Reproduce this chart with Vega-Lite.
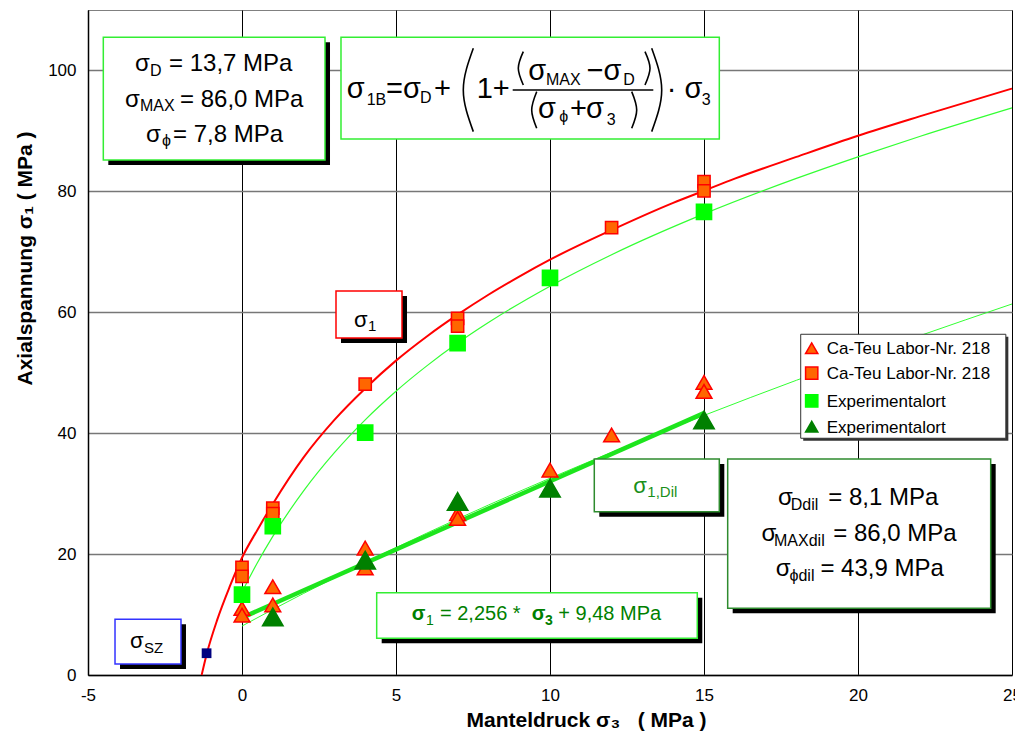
{
  "$schema": "https://vega.github.io/schema/vega-lite/v6.json",
  "width": 924,
  "height": 665,
  "autosize": {"type": "none"},
  "padding": {"left": 88, "top": 10, "right": 3, "bottom": 63},
  "background": "white",
  "config": {
    "font": "Liberation Sans",
    "view": {"stroke": "#808080", "strokeWidth": 1},
    "axis": {"labelColor": "#000", "titleColor": "#000", "labelFont": "Liberation Sans", "titleFont": "Liberation Sans"}
  },
  "datasets": {
    "curves": [
      {"c": "red", "x": -1.31, "y": 0}, {"c": "red", "x": -1.15, "y": 3.4}, {"c": "red", "x": -0.8, "y": 9.2}, {"c": "red", "x": -0.4, "y": 14.6},
      {"c": "red", "x": 0, "y": 19.4}, {"c": "red", "x": 0.5, "y": 24.0}, {"c": "red", "x": 1, "y": 28.3}, {"c": "red", "x": 2, "y": 36.0},
      {"c": "red", "x": 3, "y": 42.2}, {"c": "red", "x": 4, "y": 47.4}, {"c": "red", "x": 5, "y": 52.0}, {"c": "red", "x": 6, "y": 56.0},
      {"c": "red", "x": 7, "y": 59.6}, {"c": "red", "x": 8, "y": 62.9}, {"c": "red", "x": 9, "y": 65.9}, {"c": "red", "x": 10, "y": 68.7},
      {"c": "red", "x": 12, "y": 73.6}, {"c": "red", "x": 14, "y": 78.1}, {"c": "red", "x": 15, "y": 80.1}, {"c": "red", "x": 16, "y": 82.1},
      {"c": "red", "x": 18, "y": 85.7}, {"c": "red", "x": 20, "y": 89.2}, {"c": "red", "x": 22, "y": 92.4}, {"c": "red", "x": 25, "y": 97.0},
      {"c": "fit", "x": 0, "y": 13.7}, {"c": "fit", "x": 0.5, "y": 18.56}, {"c": "fit", "x": 1, "y": 22.92}, {"c": "fit", "x": 2, "y": 30.46},
      {"c": "fit", "x": 3, "y": 36.78}, {"c": "fit", "x": 4, "y": 42.21}, {"c": "fit", "x": 5, "y": 46.94}, {"c": "fit", "x": 6, "y": 51.13},
      {"c": "fit", "x": 7, "y": 54.9}, {"c": "fit", "x": 8, "y": 58.31}, {"c": "fit", "x": 10, "y": 64.32}, {"c": "fit", "x": 12, "y": 69.52},
      {"c": "fit", "x": 15, "y": 76.27}, {"c": "fit", "x": 18, "y": 82.14}, {"c": "fit", "x": 20, "y": 85.71}, {"c": "fit", "x": 22, "y": 89.08},
      {"c": "fit", "x": 25, "y": 93.81},
      {"c": "dil", "x": 0, "y": 8.1}, {"c": "dil", "x": 1, "y": 10.84}, {"c": "dil", "x": 2, "y": 13.49}, {"c": "dil", "x": 4, "y": 18.61},
      {"c": "dil", "x": 6, "y": 23.47}, {"c": "dil", "x": 8, "y": 28.11}, {"c": "dil", "x": 10, "y": 32.55}, {"c": "dil", "x": 12, "y": 36.82},
      {"c": "dil", "x": 15, "y": 42.94}, {"c": "dil", "x": 18, "y": 48.75}, {"c": "dil", "x": 20, "y": 52.48}, {"c": "dil", "x": 22, "y": 56.11},
      {"c": "dil", "x": 25, "y": 61.37},
      {"c": "lin", "x": 0, "y": 9.48}, {"c": "lin", "x": 15, "y": 43.32}
    ],
    "pts": [
      {"s": "A", "x": 0, "y": 11.0}, {"s": "A", "x": 0, "y": 9.9}, {"s": "A", "x": 1, "y": 14.6}, {"s": "A", "x": 1, "y": 11.6},
      {"s": "A", "x": 4, "y": 21.0}, {"s": "A", "x": 4, "y": 17.7}, {"s": "A", "x": 7, "y": 26.7}, {"s": "A", "x": 7, "y": 25.9},
      {"s": "A", "x": 10, "y": 33.9}, {"s": "A", "x": 12, "y": 39.7}, {"s": "A", "x": 15, "y": 48.4}, {"s": "A", "x": 15, "y": 46.9},
      {"s": "B", "x": 0, "y": 17.8}, {"s": "B", "x": 0, "y": 16.3}, {"s": "B", "x": 1, "y": 27.6}, {"s": "B", "x": 1, "y": 26.7},
      {"s": "B", "x": 4, "y": 48.1}, {"s": "B", "x": 7, "y": 59.0}, {"s": "B", "x": 7, "y": 57.7}, {"s": "B", "x": 12, "y": 74.0},
      {"s": "B", "x": 15, "y": 81.6}, {"s": "B", "x": 15, "y": 80.1},
      {"s": "C", "x": 0, "y": 13.3}, {"s": "C", "x": 1, "y": 24.6}, {"s": "C", "x": 4, "y": 40.1}, {"s": "C", "x": 7, "y": 54.9},
      {"s": "C", "x": 10, "y": 65.7}, {"s": "C", "x": 15, "y": 76.6},
      {"s": "D", "x": 1, "y": 9.6}, {"s": "D", "x": 4, "y": 19.0}, {"s": "D", "x": 7, "y": 28.7}, {"s": "D", "x": 10, "y": 30.9},
      {"s": "D", "x": 15, "y": 42.2}
    ],
    "legrows": [
      {"s": "A", "x": 18.497, "y": 54.05, "lx": 18.984, "ly": 53.06, "t": "Ca-Teu Labor-Nr. 218"},
      {"s": "B", "x": 18.497, "y": 49.92, "lx": 18.984, "ly": 48.92, "t": "Ca-Teu Labor-Nr. 218"},
      {"s": "C", "x": 18.497, "y": 45.33, "lx": 18.984, "ly": 44.33, "t": "Experimentalort"},
      {"s": "D", "x": 18.497, "y": 41.08, "lx": 18.984, "ly": 40.08, "t": "Experimentalort"}
    ],
    "sz": [{"x": -1.15, "y": 3.6}],
    "boxes": [
      {"b": "box1", "x": -4.503, "x2": 2.695, "y": 85.19, "y2": 105.49},
      {"b": "formula", "x": 3.214, "x2": 15.497, "y": 88.67, "y2": 105.49},
      {"b": "reg", "x": 4.373, "x2": 14.782, "y": 6.07, "y2": 13.61},
      {"b": "sig1", "x": 3.052, "x2": 5.195, "y": 55.75, "y2": 63.52},
      {"b": "sz", "x": -4.123, "x2": -1.981, "y": 1.82, "y2": 9.21},
      {"b": "dil1", "x": 11.438, "x2": 15.497, "y": 27.01, "y2": 35.73},
      {"b": "dilp", "x": 15.769, "x2": 24.308, "y": 11.03, "y2": 35.73},
      {"b": "leg", "x": 18.14, "x2": 24.8, "y": 39.16, "y2": 56.36}
    ],
    "parens": [
      {"p": "bl", "i": 0, "x": 7.51, "y": 103.66}, {"p": "bl", "i": 1, "x": 7.185, "y": 96.77}, {"p": "bl", "i": 2, "x": 7.51, "y": 89.88},
      {"p": "br", "i": 0, "x": 13.302, "y": 103.66}, {"p": "br", "i": 1, "x": 13.627, "y": 96.77}, {"p": "br", "i": 2, "x": 13.302, "y": 89.88},
      {"p": "nl", "i": 0, "x": 9.133, "y": 103.11}, {"p": "nl", "i": 1, "x": 8.971, "y": 100.36}, {"p": "nl", "i": 2, "x": 9.133, "y": 97.6},
      {"p": "nr", "i": 0, "x": 13.084, "y": 103.11}, {"p": "nr", "i": 1, "x": 13.247, "y": 100.36}, {"p": "nr", "i": 2, "x": 13.084, "y": 97.6},
      {"p": "dl", "i": 0, "x": 9.568, "y": 96.49}, {"p": "dl", "i": 1, "x": 9.406, "y": 93.46}, {"p": "dl", "i": 2, "x": 9.568, "y": 90.44},
      {"p": "dr", "i": 0, "x": 12.653, "y": 96.49}, {"p": "dr", "i": 1, "x": 12.815, "y": 93.46}, {"p": "dr", "i": 2, "x": 12.653, "y": 90.44},
      {"p": "frac", "i": 0, "x": 8.789, "y": 96.77}, {"p": "frac", "i": 1, "x": 13.354, "y": 96.77}
    ],
    "notes": [
      {"g": "m24", "x": -3.471, "y": 99.92, "t": "σ"}, {"g": "m24", "x": -2.37, "y": 99.92, "t": "= 13,7 MPa"},
      {"g": "m24", "x": -3.796, "y": 94.01, "t": "σ"}, {"g": "m24", "x": -2.013, "y": 94.01, "t": "= 86,0 MPa"},
      {"g": "m24", "x": -3.114, "y": 88.22, "t": "σ"}, {"g": "m24", "x": -2.24, "y": 88.22, "t": "= 7,8 MPa"},
      {"g": "m24", "x": 17.405, "y": 28.12, "t": "σ"}, {"g": "m24", "x": 19.036, "y": 28.12, "t": "= 8,1 MPa"},
      {"g": "m24", "x": 16.863, "y": 22.22, "t": "σ"}, {"g": "m24", "x": 19.198, "y": 22.22, "t": "= 86,0 MPa"},
      {"g": "m24", "x": 17.331, "y": 16.38, "t": "σ"}, {"g": "m24", "x": 18.78, "y": 16.38, "t": "= 43,9 MPa"},
      {"g": "s24", "x": -2.987, "y": 99.09, "t": "D"}, {"g": "s24", "x": -3.312, "y": 93.3, "t": "MAX"},
      {"g": "s24", "x": -2.597, "y": 87.51, "t": "ϕ"}, {"g": "s24", "x": 17.815, "y": 27.3, "t": "Ddil"},
      {"g": "s24", "x": 17.273, "y": 21.34, "t": "MAXdil"}, {"g": "s24", "x": 17.776, "y": 15.55, "t": "ϕdil"},
      {"g": "mF", "x": 3.399, "y": 95.5, "t": "σ"}, {"g": "mF", "x": 4.675, "y": 95.5, "t": "=σ"},
      {"g": "mF", "x": 6.23, "y": 95.5, "t": "+"}, {"g": "mF", "x": 7.62, "y": 95.5, "t": "1+"},
      {"g": "mF", "x": 9.295, "y": 98.43, "t": "σ"}, {"g": "mF", "x": 11.19, "y": 98.43, "t": "−σ"},
      {"g": "mF", "x": 9.61, "y": 92.09, "t": "σ"}, {"g": "mF", "x": 10.65, "y": 92.09, "t": "+"},
      {"g": "mF", "x": 11.169, "y": 92.09, "t": "σ"},
      {"g": "mF", "x": 13.79, "y": 95.5, "t": "· σ"},
      {"g": "sF", "x": 4.049, "y": 94.29, "t": "1B"}, {"g": "sF", "x": 5.78, "y": 94.57, "t": "D"},
      {"g": "sF", "x": 9.87, "y": 97.6, "t": "MAX"}, {"g": "sF", "x": 12.38, "y": 97.6, "t": "D"},
      {"g": "sF", "x": 10.3, "y": 91.48, "t": "ϕ"}, {"g": "sF", "x": 11.84, "y": 90.98, "t": "3"},
      {"g": "sF", "x": 14.93, "y": 94.29, "t": "3"},
      {"g": "mRb", "x": 5.51, "y": 9.1, "t": "σ"}, {"g": "mRb", "x": 9.406, "y": 9.1, "t": "σ"},
      {"g": "mR", "x": 6.429, "y": 9.1, "t": "= 2,256 * "}, {"g": "mR", "x": 10.269, "y": 9.1, "t": "+ 9,48 MPa"},
      {"g": "sR", "x": 5.974, "y": 8.27, "t": "1"}, {"g": "sRb", "x": 9.838, "y": 8.27, "t": "3"},
      {"g": "mD", "x": 12.705, "y": 30.06, "t": "σ"}, {"g": "sD", "x": 13.16, "y": 29.5, "t": "1,Dil"},
      {"g": "m22", "x": 3.636, "y": 57.57, "t": "σ"}, {"g": "s22", "x": 4.091, "y": 56.91, "t": "1"},
      {"g": "m22", "x": -3.636, "y": 4.42, "t": "σ"}, {"g": "s22", "x": -3.18, "y": 3.59, "t": "SZ"}
    ]
  },
  "encoding": {
    "x": {
      "field": "x", "type": "quantitative",
      "scale": {"domain": [-5, 25], "nice": false, "zero": false},
      "axis": {
        "values": [-5, 0, 5, 10, 15, 20, 25], "grid": true, "gridColor": "#000", "gridWidth": 1,
        "domainColor": "#000", "domainWidth": 1.5, "ticks": false, "labelFontSize": 17, "labelPadding": 12,
        "labelFlush": false, "labelOverlap": false, "labelExpr": "replace(datum.label, '−', '-')",
        "title": "Manteldruck σ₃\u00a0\u00a0\u00a0( MPa )", "titleFontSize": 21, "titleFontWeight": "bold", "titleX": 498, "titlePadding": 6
      }
    },
    "y": {
      "field": "y", "type": "quantitative",
      "scale": {"domain": [0, 110], "nice": false, "zero": false},
      "axis": {
        "values": [0, 20, 40, 60, 80, 100], "grid": true, "gridColor": "#777", "gridWidth": 1.5,
        "domainColor": "#000", "domainWidth": 1.5, "ticks": false, "labelFontSize": 17, "labelPadding": 12,
        "labelOverlap": false,
        "title": "Axialspannung σ₁ ( MPa )", "titleFontSize": 21, "titleFontWeight": "bold", "titleY": 248, "titlePadding": 12
      }
    }
  },
  "layer": [
    {"data": {"name": "curves"}, "transform": [{"filter": "datum.c == 'dil'"}], "mark": {"type": "line", "color": "#33ff33", "strokeWidth": 1, "interpolate": "monotone"}, "encoding": {}},
    {"data": {"name": "curves"}, "transform": [{"filter": "datum.c == 'fit'"}], "mark": {"type": "line", "color": "#33ff33", "strokeWidth": 1.2, "interpolate": "monotone"}, "encoding": {}},
    {"data": {"name": "curves"}, "transform": [{"filter": "datum.c == 'red'"}], "mark": {"type": "line", "color": "#ff0000", "strokeWidth": 2, "interpolate": "monotone"}, "encoding": {}},
    {"data": {"name": "curves"}, "transform": [{"filter": "datum.c == 'lin'"}], "mark": {"type": "line", "color": "#1de51d", "strokeWidth": 4.5}, "encoding": {}},
    {
      "data": {"name": "pts"},
      "mark": {"type": "point", "filled": true, "strokeWidth": 1.5, "opacity": 1},
      "encoding": {
        "shape": {"field": "s", "type": "nominal", "scale": {"domain": ["A", "B", "C", "D"], "range": ["triangle-up", "square", "square", "triangle-up"]}, "legend": null},
        "fill": {"field": "s", "type": "nominal", "scale": {"domain": ["A", "B", "C", "D"], "range": ["#ff6600", "#ff6600", "#00ff00", "#008000"]}, "legend": null},
        "stroke": {"field": "s", "type": "nominal", "scale": {"domain": ["A", "B", "C", "D"], "range": ["#ff0000", "#ff0000", "#00ff00", "#008000"]}, "legend": null},
        "size": {"field": "s", "type": "nominal", "scale": {"type": "ordinal", "domain": ["A", "B", "C", "D"], "range": [250, 150, 230, 420]}, "legend": null}
      }
    },
    {"data": {"name": "sz"}, "mark": {"type": "square", "color": "#000080", "size": 95, "opacity": 1}, "encoding": {}},
    {"data": {"name": "boxes"}, "transform": [{"filter": "datum.b != 'formula' && datum.b != 'leg'"}], "mark": {"type": "rect", "fill": "#000", "xOffset": 5, "x2Offset": 5, "yOffset": 5, "y2Offset": 5}, "encoding": {"x2": {"field": "x2"}, "y2": {"field": "y2"}}},
    {"data": {"name": "boxes"}, "transform": [{"filter": "datum.b == 'leg'"}], "mark": {"type": "rect", "fill": "#333", "xOffset": 2.5, "x2Offset": 2.5, "yOffset": 2.5, "y2Offset": 2.5}, "encoding": {"x2": {"field": "x2"}, "y2": {"field": "y2"}}},
    {"data": {"name": "boxes"}, "transform": [{"filter": "indexof(['box1','formula','reg'], datum.b) >= 0"}], "mark": {"type": "rect", "fill": "#fff", "stroke": "#33ee33", "strokeWidth": 1.5}, "encoding": {"x2": {"field": "x2"}, "y2": {"field": "y2"}}},
    {"data": {"name": "boxes"}, "transform": [{"filter": "datum.b == 'sig1'"}], "mark": {"type": "rect", "fill": "#fff", "stroke": "#ff0000", "strokeWidth": 1.5}, "encoding": {"x2": {"field": "x2"}, "y2": {"field": "y2"}}},
    {"data": {"name": "boxes"}, "transform": [{"filter": "datum.b == 'sz'"}], "mark": {"type": "rect", "fill": "#fff", "stroke": "#3333ff", "strokeWidth": 1.5}, "encoding": {"x2": {"field": "x2"}, "y2": {"field": "y2"}}},
    {"data": {"name": "boxes"}, "transform": [{"filter": "datum.b == 'dil1' || datum.b == 'dilp'"}], "mark": {"type": "rect", "fill": "#fff", "stroke": "#2e8b2e", "strokeWidth": 1.5}, "encoding": {"x2": {"field": "x2"}, "y2": {"field": "y2"}}},
    {"data": {"name": "boxes"}, "transform": [{"filter": "datum.b == 'leg'"}], "mark": {"type": "rect", "fill": "#fff", "stroke": "#333", "strokeWidth": 1}, "encoding": {"x2": {"field": "x2"}, "y2": {"field": "y2"}}},
    {
      "data": {"name": "legrows"},
      "mark": {"type": "point", "filled": true, "strokeWidth": 1.5, "opacity": 1, "size": 150},
      "encoding": {
        "shape": {"field": "s", "type": "nominal", "legend": null},
        "fill": {"field": "s", "type": "nominal", "legend": null},
        "stroke": {"field": "s", "type": "nominal", "legend": null}
      }
    },
    {"data": {"name": "legrows"}, "mark": {"type": "text", "align": "left", "baseline": "alphabetic", "fontSize": 17, "color": "#000"}, "encoding": {"x": {"field": "lx", "type": "quantitative"}, "y": {"field": "ly", "type": "quantitative"}, "text": {"field": "t"}}},
    {"data": {"name": "parens"}, "mark": {"type": "line", "color": "#000", "strokeWidth": 1.6, "interpolate": "natural"}, "encoding": {"detail": {"field": "p"}, "order": {"field": "i", "type": "quantitative"}}},
    {"data": {"name": "notes"}, "transform": [{"filter": "datum.g == 'm24'"}], "mark": {"type": "text", "align": "left", "baseline": "alphabetic", "fontSize": 24, "color": "#000"}, "encoding": {"text": {"field": "t"}}},
    {"data": {"name": "notes"}, "transform": [{"filter": "datum.g == 's24'"}], "mark": {"type": "text", "align": "left", "baseline": "alphabetic", "fontSize": 16, "color": "#000"}, "encoding": {"text": {"field": "t"}}},
    {"data": {"name": "notes"}, "transform": [{"filter": "datum.g == 'mF'"}], "mark": {"type": "text", "align": "left", "baseline": "alphabetic", "fontSize": 29, "color": "#000"}, "encoding": {"text": {"field": "t"}}},
    {"data": {"name": "notes"}, "transform": [{"filter": "datum.g == 'sF'"}], "mark": {"type": "text", "align": "left", "baseline": "alphabetic", "fontSize": 16, "color": "#000"}, "encoding": {"text": {"field": "t"}}},
    {"data": {"name": "notes"}, "transform": [{"filter": "datum.g == 'mR'"}], "mark": {"type": "text", "align": "left", "baseline": "alphabetic", "fontSize": 20, "color": "#008000"}, "encoding": {"text": {"field": "t"}}},
    {"data": {"name": "notes"}, "transform": [{"filter": "datum.g == 'mRb'"}], "mark": {"type": "text", "align": "left", "baseline": "alphabetic", "fontSize": 20, "fontWeight": "bold", "color": "#008000"}, "encoding": {"text": {"field": "t"}}},
    {"data": {"name": "notes"}, "transform": [{"filter": "datum.g == 'sR'"}], "mark": {"type": "text", "align": "left", "baseline": "alphabetic", "fontSize": 14, "color": "#008000"}, "encoding": {"text": {"field": "t"}}},
    {"data": {"name": "notes"}, "transform": [{"filter": "datum.g == 'sRb'"}], "mark": {"type": "text", "align": "left", "baseline": "alphabetic", "fontSize": 14, "fontWeight": "bold", "color": "#008000"}, "encoding": {"text": {"field": "t"}}},
    {"data": {"name": "notes"}, "transform": [{"filter": "datum.g == 'mD'"}], "mark": {"type": "text", "align": "left", "baseline": "alphabetic", "fontSize": 22, "color": "#1a8f1a"}, "encoding": {"text": {"field": "t"}}},
    {"data": {"name": "notes"}, "transform": [{"filter": "datum.g == 'sD'"}], "mark": {"type": "text", "align": "left", "baseline": "alphabetic", "fontSize": 15, "color": "#1a8f1a"}, "encoding": {"text": {"field": "t"}}},
    {"data": {"name": "notes"}, "transform": [{"filter": "datum.g == 'm22'"}], "mark": {"type": "text", "align": "left", "baseline": "alphabetic", "fontSize": 22, "color": "#000"}, "encoding": {"text": {"field": "t"}}},
    {"data": {"name": "notes"}, "transform": [{"filter": "datum.g == 's22'"}], "mark": {"type": "text", "align": "left", "baseline": "alphabetic", "fontSize": 15, "color": "#000"}, "encoding": {"text": {"field": "t"}}}
  ]
}
